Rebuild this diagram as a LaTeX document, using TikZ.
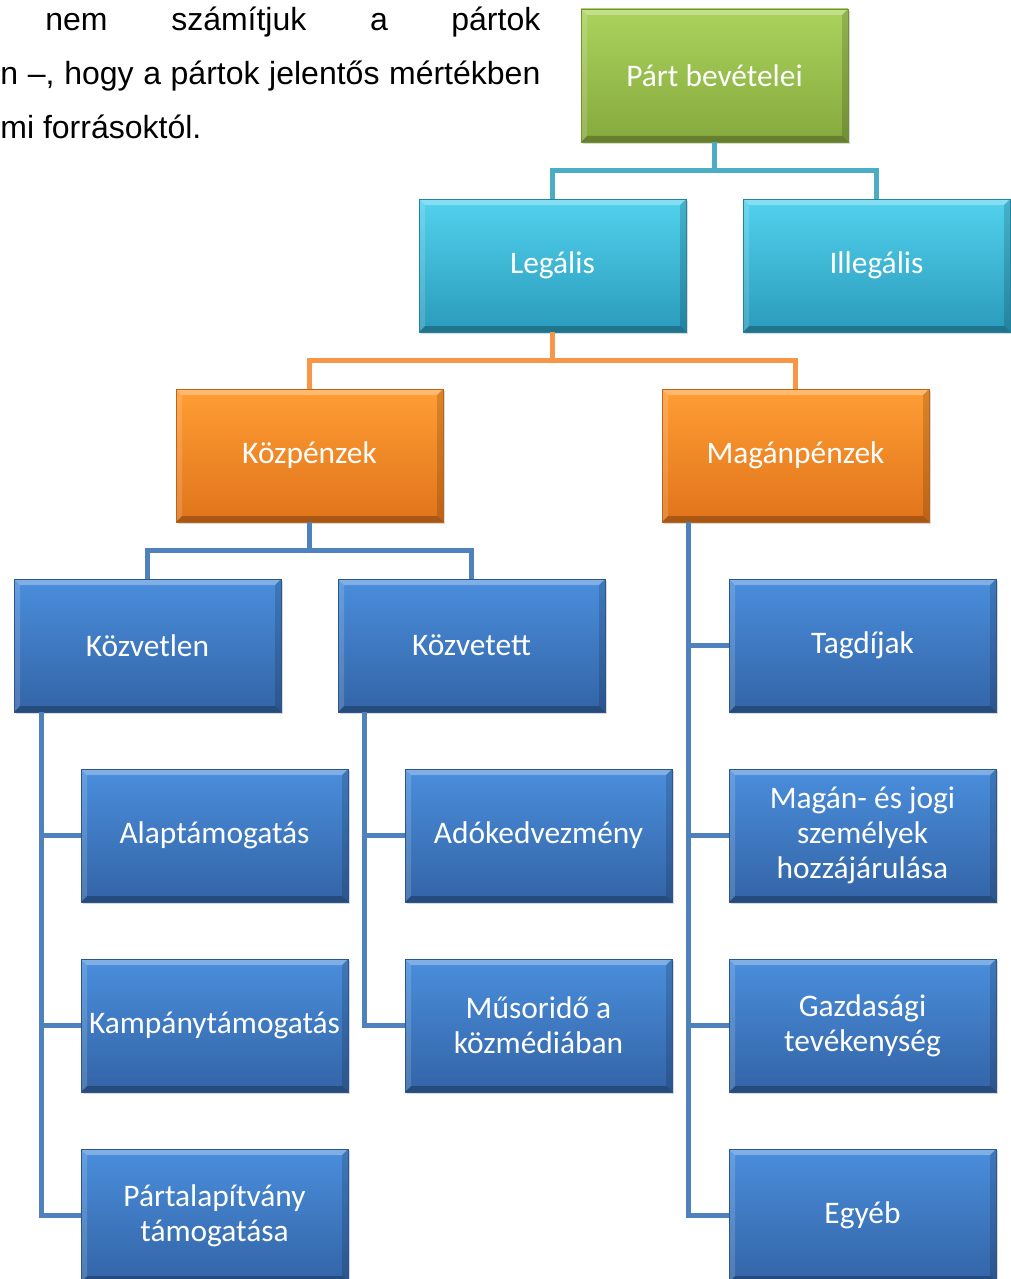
\documentclass[tikz,border=0pt]{standalone}
\usepackage{fontspec}
\setmainfont{Carlito}
\newfontfamily\bodyfont{Liberation Sans}
\usepackage{xcolor}
\usepackage{tikz}
\usetikzlibrary{positioning, shadows}

\definecolor{grtop}{HTML}{AAD35D}
\definecolor{grbot}{HTML}{86A93D}
\definecolor{tltop}{HTML}{52D2EE}
\definecolor{tlbot}{HTML}{2A9ABB}
\definecolor{ortop}{HTML}{FF9D33}
\definecolor{orbot}{HTML}{E0741B}
\definecolor{bltop}{HTML}{4A8EDC}
\definecolor{blbot}{HTML}{3364A6}
\definecolor{tlline}{HTML}{4BACC6}
\definecolor{orline}{HTML}{F79646}
\definecolor{blline}{HTML}{4F81BD}

\begin{document}
\begin{tikzpicture}[x=0.5pt, y=-0.5pt, node distance=28.5pt]
        % stilusok
        \tikzstyle{bevel} = [path picture={
            \fill[white, opacity=0.3] (path picture bounding box.north west) -- (path picture bounding box.north east) -- ([xshift=-3pt,yshift=-3pt]path picture bounding box.north east) -- ([xshift=3pt,yshift=-3pt]path picture bounding box.north west) -- cycle;
            \fill[white, opacity=0.15] (path picture bounding box.north west) -- ([xshift=3pt,yshift=-3pt]path picture bounding box.north west) -- ([xshift=3pt,yshift=3pt]path picture bounding box.south west) -- (path picture bounding box.south west) -- cycle;
            \fill[black, opacity=0.25] (path picture bounding box.south west) -- (path picture bounding box.south east) -- ([xshift=-3pt,yshift=3pt]path picture bounding box.south east) -- ([xshift=3pt,yshift=3pt]path picture bounding box.south west) -- cycle;
            \fill[black, opacity=0.15] (path picture bounding box.north east) -- ([xshift=-3pt,yshift=-3pt]path picture bounding box.north east) -- ([xshift=-3pt,yshift=3pt]path picture bounding box.south east) -- (path picture bounding box.south east) -- cycle;
        }]
        \tikzstyle{box} = [rectangle, bevel, minimum width=133.5pt, minimum height=66.5pt, inner sep=1pt, outer sep=0pt, align=center, text=white, font=\fontsize{15.7}{17.5}\selectfont, line width=0.4pt, drop shadow={opacity=0.3, shadow xshift=1.2pt, shadow yshift=-1.2pt}]
        \tikzstyle{greenbox} = [box, top color=grtop, bottom color=grbot, draw=grbot!85!black]
        \tikzstyle{tealbox} = [box, top color=tltop, bottom color=tlbot, draw=tlbot!85!black]
        \tikzstyle{orangebox} = [box, top color=ortop, bottom color=orbot, draw=orbot!85!black]
        \tikzstyle{bluebox} = [box, top color=bltop, bottom color=blbot, draw=blbot!85!black]
        \tikzstyle{line} = [line width=2.5pt]
        \tikzstyle{bodytext} = [inner sep=0pt, anchor=base west, font=\bodyfont\fontsize{16}{19}\selectfont]

        \useasboundingbox (0,0) rectangle (1011,1279);
        \clip (0,0) rectangle (1011,1279);

        % szoveg
        \node (line1) [bodytext] at (45,31) {\makebox[247.5pt][s]{nem számítjuk a pártok}};
        \node (line2) [bodytext] at (0,85) {\makebox[270pt][s]{n –, hogy a pártok jelentős mértékben}};
        \node (line3) [bodytext] at (0,139) {mi forrásoktól.};

        % dobozok
        \node (part) [greenbox] at (714.5,75.5) {Párt bevételei};
        \node (legal) [tealbox] at (552.5,265.5) {Legális};
        \node (illegal) [tealbox, right=of legal] {Illegális};
        \node (kozp) [orangebox] at (309.5,455.5) {Közpénzek};
        \node (magan) [orangebox] at (795.5,455.5) {Magánpénzek};
        \node (kozvetlen) [bluebox] at (147.5,645.5) {Közvetlen};
        \node (kozvetett) [bluebox, right=of kozvetlen] {Közvetett};
        \node (tagdij) [bluebox] at (862.5,645.5) {Tagdíjak};
        \node (alap) [bluebox] at (214.5,835.5) {Alaptámogatás};
        \node (kampany) [bluebox, below=of alap] {Kampánytámogatás};
        \node (alapitvany) [bluebox, below=of kampany] {Pártalapítvány\\támogatása};
        \node (ado) [bluebox] at (538.5,835.5) {Adókedvezmény};
        \node (musor) [bluebox, below=of ado] {Műsoridő a\\közmédiában};
        \node (hozza) [bluebox, below=of tagdij] {Magán- és jogi\\személyek\\hozzájárulása};
        \node (gazd) [bluebox, below=of hozza] {Gazdasági\\tevékenység};
        \node (egyeb) [bluebox, below=of gazd] {Egyéb};

        % vonalak
        \draw [line, tlline] (part.south) -- ++(0,28) -| (legal.north);
        \draw [line, tlline] (part.south) -- ++(0,28) -| (illegal.north);
        \draw [line, orline] (legal.south) -- ++(0,28) -| (kozp.north);
        \draw [line, orline] (legal.south) -- ++(0,28) -| (magan.north);
        \draw [line, blline] (kozp.south) -- ++(0,28) -| (kozvetlen.north);
        \draw [line, blline] (kozp.south) -- ++(0,28) -| (kozvetett.north);
        \foreach \n in {alap, kampany, alapitvany}
            \draw [line, blline] ([xshift=13.5pt]kozvetlen.south west) |- (\n.west);
        \foreach \n in {ado, musor}
            \draw [line, blline] ([xshift=13pt]kozvetett.south west) |- (\n.west);
        \foreach \n in {tagdij, hozza, gazd, egyeb}
            \draw [line, blline] ([xshift=13pt]magan.south west) |- (\n.west);

    \end{tikzpicture}
\end{document}
